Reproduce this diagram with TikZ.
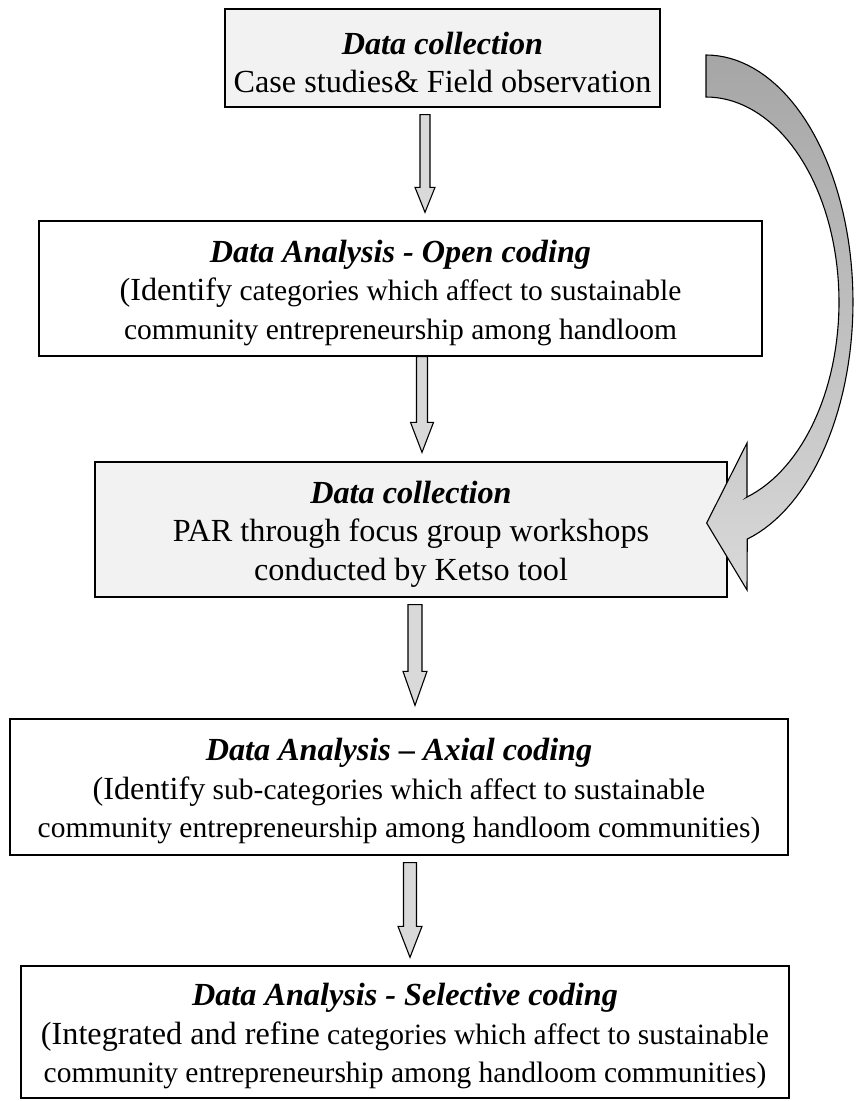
\documentclass[tikz,border=0pt]{standalone}
\usepackage{fontspec}
\setmainfont{Liberation Serif}
\usetikzlibrary{calc}
\newcommand\smallsz{\fontsize{29.5}{38.5}\selectfont}
\newcommand\largesz{\fontsize{32.2}{38.5}\selectfont}
\newcommand\headline[1]{{\rule{0pt}{31pt}\largesz\bfseries\itshape #1}}
% vertical block arrow: x, upper node anchor, lower node anchor,
% gap above, gap below, shaft half width, head half width, head length
\newcommand\blockarrow[8]{%
  \draw[flowarrow] let \p1=(#1,0 |- #2), \p2=(#1,0 |- #3) in
    (\x1-#6pt,\y1-#4pt) -- (\x1+#6pt,\y1-#4pt) -- (\x1+#6pt,\y2+#5pt+#8pt)
    -- (\x1+#7pt,\y2+#5pt+#8pt) -- (\x1,\y2+#5pt)
    -- (\x1-#7pt,\y2+#5pt+#8pt) -- (\x1-#6pt,\y2+#5pt+#8pt) -- cycle;}
\begin{document}
\begin{tikzpicture}[x=1pt,y=-1pt,
  stagebox/.style={draw=black, line width=1.3pt, rectangle, inner sep=0pt,
    align=center, font=\largesz},
  greybox/.style={stagebox, fill=black!5},
  flowarrow/.style={draw=black, line width=1.1pt, fill=black!15, line join=miter},
  loopband/.style={draw=black, line width=1.1pt, top color=black!35,
    bottom color=black!15}]
\useasboundingbox (0,0) rectangle (855,1101);

\node[greybox, minimum width=435pt, minimum height=98pt] (b1) at (442.5,58)
  {\headline{Data collection}\\ Case studies\& Field observation};

\node[stagebox, minimum width=723pt, minimum height=135pt] (b2) at (400.5,288.5)
  {\headline{Data Analysis - Open coding}\\
   (Identify{\smallsz{} categories which affect to sustainable}\\
   {\smallsz community entrepreneurship among handloom}};

\node[greybox, minimum width=632pt, minimum height=135pt] (b3) at (411,529.5)
  {\headline{Data collection}\\ PAR through focus group workshops\\
   conducted by Ketso tool};

\node[stagebox, minimum width=778pt, minimum height=136pt] (b4) at (399,787)
  {\headline{Data Analysis -- Axial coding}\\
   (Identify{\smallsz{} sub-categories which affect to sustainable}\\
   {\smallsz community entrepreneurship among handloom communities)}};

\node[stagebox, minimum width=768pt, minimum height=132pt] (b5) at (405,1032)
  {\headline{Data Analysis - Selective coding}\\
   (Integrated and refine{\smallsz{} categories which affect to sustainable}\\
   {\smallsz community entrepreneurship among handloom communities)}};

% straight arrows between the stages
\blockarrow{425}{b1.south}{b2.north}{7}{8}{5}{10}{25}
\blockarrow{422}{b2.south}{b3.north}{0}{9}{5.5}{11.5}{30}
\blockarrow{415}{b3.south}{b4.north}{7}{13}{7}{12}{34}
\blockarrow{410}{b4.south}{b5.north}{7}{8}{6.5}{12}{31}

% curved feedback arrow from the first to the third stage
\coordinate (loopstart) at ($(b1.north east)+(46,46)$);
\coordinate (looptip) at ($(b3.east)+(-21,-6.5)$);
\shadedraw[loopband]
  plot[domain=90:-73.7, samples=70] ({706+147*cos(\x)},{302-247*sin(\x)})
  -- (747,590) -- (looptip) -- (747,443) -- (747,497)
  -- plot[domain=-72.06:90, samples=70] ({706+133*cos(\x)},{302-205*sin(\x)})
  -- cycle;
\end{tikzpicture}
\end{document}
